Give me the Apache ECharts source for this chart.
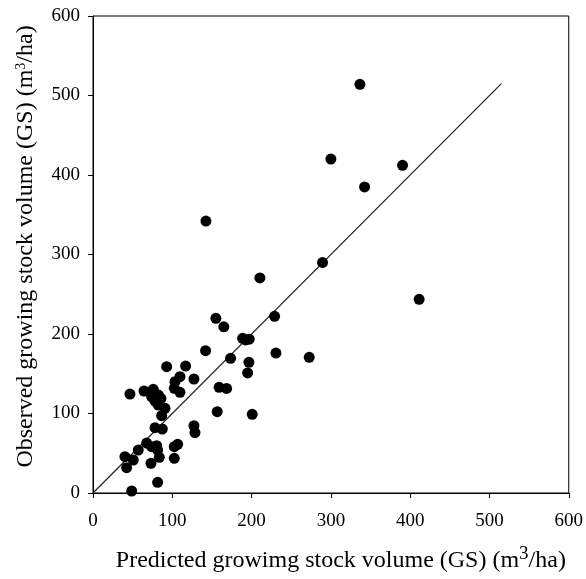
<!DOCTYPE html>
<html>
<head>
<meta charset="utf-8">
<script src="https://cdn.jsdelivr.net/npm/echarts@6/dist/echarts.min.js"></script>
<style>
  html, body { margin: 0; padding: 0; background: #fff; }
  #chart { width: 586px; height: 579px; }
</style>
</head>
<body>
<div id="chart"></div>
<script>
// predicted GS (x) vs observed GS (y), m3/ha
var predicted = [48.8, 81.5, 42.4, 73.1, 50.8, 40.3, 83.6, 102.5, 57.1, 67.7,
  74, 80.3, 81.5, 102.5, 106.8, 78.2, 87.4, 127.3, 128.6, 86.6,
  90.8, 82.3, 74, 78.2, 85.7, 82.3, 46.6, 64.3, 76, 102.5,
  109.7, 103.4, 109.7, 127.3, 92.9, 116.8, 156.7, 200.8, 159, 168.5,
  142, 173.5, 195, 196.6, 230.7, 272.7, 188.7, 192.5, 197, 155,
  165, 229, 210.5, 142.4, 289.5, 300, 336.6, 342.5, 390.4, 411.3];
var observed = [2.5, 13.5, 31.8, 37.4, 41.5, 45.7, 44.9, 43.6, 54, 62.8,
  58.2, 59.5, 54, 58.2, 61.3, 82.1, 80.5, 84.7, 76, 97.2,
  106.5, 110.7, 121, 115.7, 119, 123.3, 124.5, 128.3, 130.4, 131.7,
  126.7, 140, 146.3, 143.4, 158.9, 159.7, 102.3, 99, 133, 131.5,
  179, 169.4, 151, 164.4, 176, 170.7, 194.5, 192.5, 193.5, 219.7,
  209, 222.2, 270.5, 342, 290, 420, 514, 385, 412.2, 243.6];
// 1:1 line
var lineEnds = [0, 515];

var points = predicted.map(function (x, i) { return [x, observed[i]]; });
var lineData = lineEnds.map(function (v) { return [v, v]; });

var serif = 'Liberation Serif';
var myChart = echarts.init(document.getElementById('chart'));
var option = {
    animation: false,
    grid: {
        left: 93, right: 17, top: 16, bottom: 86,
        show: true, borderColor: '#000', borderWidth: 1
    },
    xAxis: {
        type: 'value', min: 0, max: 600, interval: 100,
        splitLine: { show: false },
        axisLine: { lineStyle: { color: '#000' } },
        axisTick: { inside: false, length: 5, lineStyle: { color: '#000' } },
        axisLabel: { color: '#000', fontFamily: serif, fontSize: 19, margin: 19 },
        name: '{t|Predicted growimg stock volume (GS) (m}{s|3}{t|/ha)}',
        nameLocation: 'middle', nameGap: 52,
        nameTextStyle: {
            padding: [0, 0, 0, 20],
            rich: {
                t: { fontFamily: serif, fontSize: 24, color: '#000', verticalAlign: 'bottom' },
                s: { fontFamily: serif, fontSize: 19, color: '#000', verticalAlign: 'top', padding: [0, 0, 9, 0] }
            }
        }
    },
    yAxis: {
        type: 'value', min: 0, max: 600, interval: 100,
        splitLine: { show: false },
        axisLine: { lineStyle: { color: '#000' } },
        axisTick: { inside: false, length: 5, lineStyle: { color: '#000' } },
        axisLabel: { color: '#000', fontFamily: serif, fontSize: 19, margin: 13 },
        name: '{t|Observed growing stock volume (GS) (m}{s|3}{t|/ha)}',
        nameLocation: 'middle', nameGap: 55, nameRotate: 90,
        nameTextStyle: {
            padding: [0, 0, 0, 16],
            rich: {
                t: { fontFamily: serif, fontSize: 24, color: '#000', verticalAlign: 'bottom' },
                s: { fontFamily: serif, fontSize: 14, color: '#000', verticalAlign: 'top', padding: [0, 0, 10, 0] }
            }
        }
    },
    series: [
        {
            type: 'line',
            data: lineData,
            symbol: 'none',
            lineStyle: { color: '#222', width: 1.2 },
            z: 1
        },
        {
            type: 'scatter',
            data: points,
            symbolSize: 11,
            itemStyle: { color: '#000', opacity: 1 },
            z: 2
        }
    ]
};
myChart.setOption(option);
</script>
</body>
</html>
